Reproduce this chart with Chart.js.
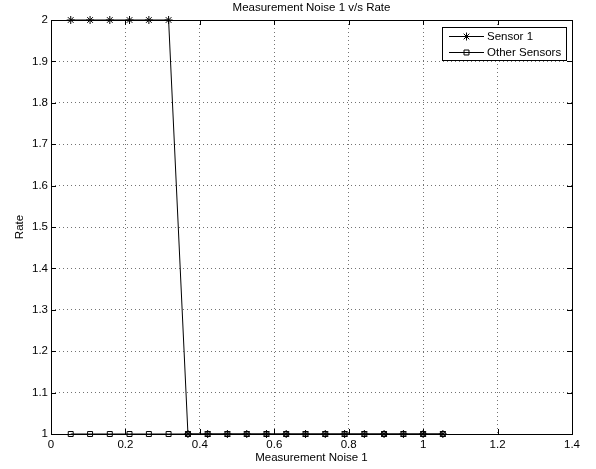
<!DOCTYPE html>
<html>
<head>
<meta charset="utf-8">
<script src="https://cdn.jsdelivr.net/npm/chart.js@4"></script>
<style>
  body { margin: 0; background: #fff; }
</style>
</head>
<body>
<canvas id="noise-chart" width="596" height="469"></canvas>
<script>
const noiseLevels = [0.053, 0.105, 0.158, 0.211, 0.263, 0.316, 0.368, 0.421, 0.474, 0.526,
                     0.579, 0.632, 0.684, 0.737, 0.789, 0.842, 0.895, 0.947, 1.0, 1.053];
const sensor1Rate = [2, 2, 2, 2, 2, 2, 1, 1, 1, 1, 1, 1, 1, 1, 1, 1, 1, 1, 1, 1];
const otherRate   = [1, 1, 1, 1, 1, 1, 1, 1, 1, 1, 1, 1, 1, 1, 1, 1, 1, 1, 1, 1];
const seriesNames = ['Sensor 1', 'Other Sensors'];
const chartTitle = 'Measurement Noise 1 v/s Rate';

const fontFamily = '"Liberation Sans", Arial, Helvetica, sans-serif';
Chart.defaults.font.family = fontFamily;
Chart.defaults.font.size = 11.5;
Chart.defaults.color = '#000';

function toPoints(xs, ys) {
    return xs.map((x, i) => ({ x: x, y: ys[i] }));
}

// axes box, inward ticks, title and boxed legend
const matlabFrame = {
    id: 'matlabFrame',
    afterDraw(chart) {
        const c = chart.ctx, a = chart.chartArea;
        const xs = chart.scales.x, ys = chart.scales.y;
        c.save();
        c.strokeStyle = '#000';
        c.lineWidth = 1;
        c.strokeRect(Math.round(a.left) + 0.5, Math.round(a.top) + 0.5,
                     Math.round(a.right - a.left), Math.round(a.bottom - a.top));
        c.beginPath();
        xs.ticks.forEach(t => {
            const px = Math.round(xs.getPixelForValue(t.value)) + 0.5;
            c.moveTo(px, a.bottom); c.lineTo(px, a.bottom - 5);
            c.moveTo(px, a.top); c.lineTo(px, a.top + 5);
        });
        ys.ticks.forEach(t => {
            const py = Math.round(ys.getPixelForValue(t.value)) + 0.5;
            c.moveTo(a.left, py); c.lineTo(a.left + 5, py);
            c.moveTo(a.right, py); c.lineTo(a.right - 5, py);
        });
        c.stroke();

        c.fillStyle = '#000';
        c.font = '11.5px ' + fontFamily;
        c.textAlign = 'center';
        c.textBaseline = 'middle';
        c.fillText(chartTitle, (a.left + a.right) / 2, 8);

        // legend
        const bx = 442, by = 27, bw = 124, bh = 33;
        c.fillStyle = '#fff';
        c.fillRect(bx, by, bw, bh);
        c.strokeRect(bx + 0.5, by + 0.5, bw, bh);
        c.textAlign = 'left';
        chart.data.datasets.forEach((ds, i) => {
            const ly = by + 9 + i * 16 + 0.5;
            c.beginPath();
            c.moveTo(449, ly); c.lineTo(484, ly);
            c.stroke();
            c.fillStyle = 'rgba(0,0,0,0)';
            Chart.helpers.drawPoint(c, {
                pointStyle: ds.pointStyle, radius: ds.pointRadius, borderWidth: 1
            }, 466.5, ly);
            c.fillStyle = '#000';
            c.fillText(ds.label, 487, ly);
        });
        c.restore();
    }
};

new Chart(document.getElementById('noise-chart'), {
    type: 'scatter',
    data: {
        datasets: [
            {
                label: seriesNames[0],
                data: toPoints(noiseLevels, sensor1Rate),
                showLine: true,
                clip: false,
                borderColor: '#000',
                backgroundColor: 'transparent',
                borderWidth: 1,
                pointStyle: 'star',
                pointRadius: 4,
                pointBorderWidth: 1,
                order: 2
            },
            {
                label: seriesNames[1],
                data: toPoints(noiseLevels, otherRate),
                showLine: true,
                clip: false,
                borderColor: '#000',
                backgroundColor: 'transparent',
                borderWidth: 1,
                pointStyle: 'rect',
                pointRadius: 3.5,
                pointBorderWidth: 1,
                order: 1
            }
        ]
    },
    options: {
        responsive: false,
        animation: false,
        events: [],
        layout: { padding: { top: 20, right: 24, left: 0, bottom: 0 } },
        plugins: {
            legend: { display: false },
            title: { display: false },
            tooltip: { enabled: false }
        },
        scales: {
            x: {
                type: 'linear',
                min: 0,
                max: 1.4,
                ticks: {
                    stepSize: 0.2,
                    padding: 4,
                    maxRotation: 0,
                    callback: v => +v.toFixed(1)
                },
                grid: { color: 'rgba(0,0,0,0.55)', drawTicks: false },
                border: { display: false, dash: [1, 3] },
                title: { display: true, text: 'Measurement Noise 1', padding: { top: 0, bottom: 4 } },
                afterFit: s => { s.height = 35; }
            },
            y: {
                type: 'linear',
                min: 1,
                max: 2,
                ticks: {
                    stepSize: 0.1,
                    padding: 3,
                    callback: v => +v.toFixed(1)
                },
                grid: { color: 'rgba(0,0,0,0.55)', drawTicks: false },
                border: { display: false, dash: [1, 3] },
                title: { display: true, text: 'Rate', padding: { top: 13, bottom: 0 } },
                afterFit: s => { s.width = 51; }
            }
        }
    },
    plugins: [matlabFrame]
});
</script>
</body>
</html>
